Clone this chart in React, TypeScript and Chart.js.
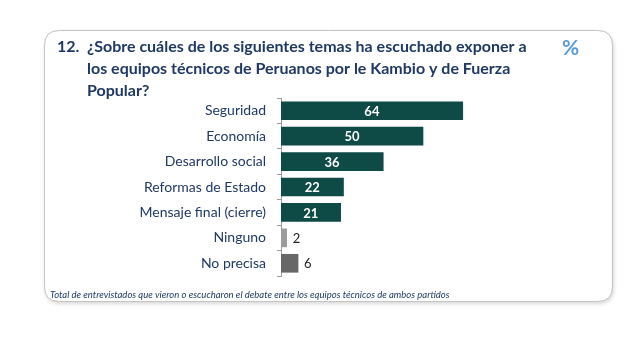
import { useEffect, useRef } from 'react';
import { Chart, registerables } from 'chart.js';

Chart.register(...registerables);

const categories = [
  'Seguridad',
  'Economía',
  'Desarrollo social',
  'Reformas de Estado',
  'Mensaje final (cierre)',
  'Ninguno',
  'No precisa',
];
const values = [64, 50, 36, 22, 21, 2, 6];
const barColors = ['#0e4a46', '#0e4a46', '#0e4a46', '#0e4a46', '#0e4a46', '#9c9c9c', '#676767'];
const titleNumber = '12.';
const titleLines = [
  '¿Sobre cuáles de los siguientes temas ha escuchado exponer a',
  'los equipos técnicos de Peruanos por le Kambio y de Fuerza',
  'Popular?',
];
const unitLabel = '%';
const footnote =
  'Total de entrevistados que vieron o escucharon el debate entre los equipos técnicos de ambos partidos';

const NAVY = '#1f3864';
const FONT = 'Lato, "Open Sans", sans-serif';

function roundRect(ctx: CanvasRenderingContext2D, x: number, y: number, w: number, h: number, r: number) {
  ctx.beginPath();
  ctx.moveTo(x + r, y);
  ctx.lineTo(x + w - r, y);
  ctx.quadraticCurveTo(x + w, y, x + w, y + r);
  ctx.lineTo(x + w, y + h - r);
  ctx.quadraticCurveTo(x + w, y + h, x + w - r, y + h);
  ctx.lineTo(x + r, y + h);
  ctx.quadraticCurveTo(x, y + h, x, y + h - r);
  ctx.lineTo(x, y + r);
  ctx.quadraticCurveTo(x, y, x + r, y);
  ctx.closePath();
}

const decorPlugin = {
  id: 'decor',
  beforeDraw(chart: any) {
    const ctx = chart.ctx as CanvasRenderingContext2D;
    ctx.save();
    ctx.fillStyle = '#ffffff';
    ctx.fillRect(0, 0, chart.width, chart.height);
    ctx.shadowColor = 'rgba(0,0,0,0.18)';
    ctx.shadowBlur = 4;
    ctx.shadowOffsetX = 1;
    ctx.shadowOffsetY = 2;
    roundRect(ctx, 44.5, 30.5, 568, 271, 15);
    ctx.fillStyle = '#ffffff';
    ctx.fill();
    ctx.shadowColor = 'transparent';
    ctx.strokeStyle = '#c4c4c4';
    ctx.lineWidth = 1;
    ctx.stroke();
    ctx.restore();
  },
  afterDatasetsDraw(chart: any) {
    const ctx = chart.ctx as CanvasRenderingContext2D;
    const meta = chart.getDatasetMeta(0);
    ctx.save();
    ctx.textBaseline = 'middle';
    meta.data.forEach((bar: any, i: number) => {
      const v = values[i];
      if (v >= 10) {
        ctx.font = `bold 13px ${FONT}`;
        ctx.fillStyle = '#ffffff';
        ctx.textAlign = 'center';
        ctx.fillText(String(v), (bar.base + bar.x) / 2, bar.y + 1);
      } else {
        ctx.font = `13px ${FONT}`;
        ctx.fillStyle = '#222222';
        ctx.textAlign = 'left';
        ctx.fillText(String(v), bar.x + 6, bar.y + 1);
      }
    });
    ctx.restore();
  },
  afterDraw(chart: any) {
    const ctx = chart.ctx as CanvasRenderingContext2D;
    ctx.save();
    ctx.textBaseline = 'middle';
    ctx.textAlign = 'left';
    ctx.fillStyle = NAVY;
    ctx.font = `bold 16px ${FONT}`;
    ctx.fillText(titleNumber, 57, 47);
    titleLines.forEach((line, i) => {
      ctx.fillText(line, 87, 47 + i * 22);
    });
    ctx.fillStyle = '#5b9bd5';
    ctx.font = `bold 21px ${FONT}`;
    ctx.fillText(unitLabel, 562, 48);
    ctx.fillStyle = NAVY;
    ctx.font = `italic 9.5px ${FONT}`;
    ctx.fillText(footnote, 50, 295);
    ctx.restore();
  },
};

export default function App() {
  const ref = useRef<HTMLCanvasElement | null>(null);
  useEffect(() => {
    document.body.style.margin = '0';
    const canvas = ref.current;
    if (!canvas) return;
    const chart = new Chart(canvas, {
      type: 'bar',
      data: {
        labels: categories,
        datasets: [
          {
            data: values,
            backgroundColor: barColors,
            barThickness: 18,
          },
        ],
      },
      options: {
        indexAxis: 'y',
        responsive: false,
        animation: false,
        devicePixelRatio: 1,
        layout: { padding: { top: 98, bottom: 81, left: 0, right: 75 } },
        plugins: {
          legend: { display: false },
          tooltip: { enabled: false },
          title: { display: false },
        },
        scales: {
          x: { display: false, min: 0, max: 100 },
          y: {
            afterFit(scale: any) {
              scale.width = 281;
            },
            ticks: {
              color: NAVY,
              font: { family: FONT, size: 14 },
              padding: 11,
            },
            grid: {
              drawOnChartArea: false,
              drawTicks: true,
              tickLength: 4,
              color: '#9a9a9a',
              offset: true,
            },
            border: { display: true, color: '#9a9a9a' },
          },
        },
      },
      plugins: [decorPlugin],
    });
    return () => chart.destroy();
  }, []);
  return (
    <canvas
      ref={ref}
      width={640}
      height={357}
      style={{ position: 'absolute', left: 0, top: 0, width: 640, height: 357 }}
    />
  );
}
